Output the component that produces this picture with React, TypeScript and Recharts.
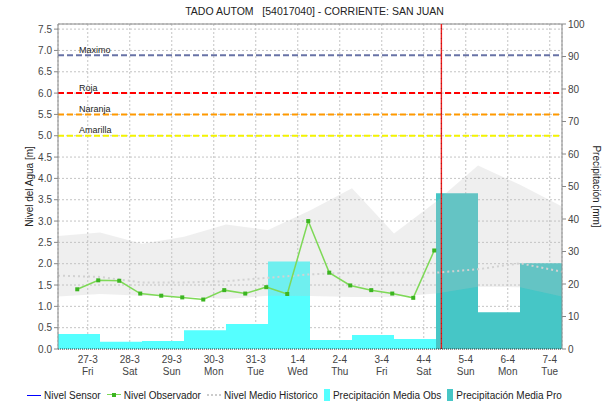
import React from 'react';
import {
  ComposedChart,
  Area,
  Line,
  XAxis,
  YAxis,
  CartesianGrid,
  ReferenceLine,
} from 'recharts';

// ---------- data ----------
// x values are days since 27-3 00:00
const X_START = -17 / 24; // 26-3 07:00
const X_END = X_START + 12; // 7-4 07:00

const DAY_TICKS = [0, 1, 2, 3, 4, 5, 6, 7, 8, 9, 10, 11];
const DATE_LABELS = ['27-3', '28-3', '29-3', '30-3', '31-3', '1-4', '2-4', '3-4', '4-4', '5-4', '6-4', '7-4'];
const WEEKDAY_LABELS = ['Fri', 'Sat', 'Sun', 'Mon', 'Tue', 'Wed', 'Thu', 'Fri', 'Sat', 'Sun', 'Mon', 'Tue'];

const LEVEL_TICKS = [0, 0.5, 1, 1.5, 2, 2.5, 3, 3.5, 4, 4.5, 5, 5.5, 6, 6.5, 7, 7.5];
const LEVEL_MAX = 7.62;
const PRECIP_TICKS = [0, 10, 20, 30, 40, 50, 60, 70, 80, 90, 100];

// observer readings, 06:00 and 18:00
const OBS_TIMES = [-0.25, 0.25, 0.75, 1.25, 1.75, 2.25, 2.75, 3.25, 3.75, 4.25, 4.75, 5.25, 5.75, 6.25, 6.75, 7.25, 7.75, 8.25];
const OBS_LEVELS = [1.4, 1.61, 1.6, 1.3, 1.25, 1.21, 1.16, 1.38, 1.3, 1.45, 1.29, 3.0, 1.79, 1.49, 1.38, 1.3, 1.2, 2.31];

// historical statistics, daily at 07:00
const HIST_TIMES = [X_START, X_START + 1, X_START + 2, X_START + 3, X_START + 4, X_START + 5, X_START + 6, X_START + 7, X_START + 8, X_START + 9, X_START + 10, X_START + 11, X_START + 12];
const HIST_MEAN = [1.72, 1.69, 1.56, 1.56, 1.59, 1.67, 1.75, 1.79, 1.79, 1.79, 1.87, 2.01, 1.81];
const HIST_MIN = [1.23, 1.29, 1.25, 1.23, 1.17, 1.25, 1.24, 1.22, 1.22, 1.3, 1.46, 1.45, 1.23];
const HIST_MAX = [2.65, 2.73, 2.47, 2.63, 2.92, 2.79, 3.25, 3.77, 2.71, 3.45, 4.3, 3.85, 3.34];

// daily precipitation (07:00 - 07:00), mm
const PRECIP_OBS_START = [X_START, X_START + 1, X_START + 2, X_START + 3, X_START + 4, X_START + 5, X_START + 6, X_START + 7, X_START + 8];
const PRECIP_OBS = [4.6, 2.2, 2.5, 5.8, 7.7, 26.9, 2.8, 4.3, 3.1];
const PRECIP_PRO_START = [X_START + 9, X_START + 10, X_START + 11];
const PRECIP_PRO = [47.9, 11.3, 26.4];

const THRESHOLD_NAMES = ['Maximo', 'Roja', 'Naranja', 'Amarilla'];
const THRESHOLD_VALUES = [6.89, 6.0, 5.5, 5.0];
const THRESHOLD_COLORS = ['#6873a6', '#ff0000', '#ff9900', '#f4f400'];

const NOW_X = 8.42;

// ---------- derived tables ----------
const obsData = OBS_TIMES.map((x, i) => ({ x, v: OBS_LEVELS[i] }));
const histData = HIST_TIMES.map((x, i) => ({ x, mean: HIST_MEAN[i], min: HIST_MIN[i], max: HIST_MAX[i] }));
const precipObsData = [
  ...PRECIP_OBS_START.map((x, i) => ({ x, v: PRECIP_OBS[i] })),
  { x: PRECIP_OBS_START[PRECIP_OBS_START.length - 1] + 1, v: PRECIP_OBS[PRECIP_OBS.length - 1] },
];
const precipProData = [
  ...PRECIP_PRO_START.map((x, i) => ({ x, v: PRECIP_PRO[i] })),
  { x: PRECIP_PRO_START[PRECIP_PRO_START.length - 1] + 1, v: PRECIP_PRO[PRECIP_PRO.length - 1] },
];

const FONT = '"Liberation Sans", Arial, sans-serif';
const TICK_STYLE = { fontSize: 10, fill: '#444', fontFamily: FONT };

const XTick = (props: any) => {
  const { x, y, payload } = props;
  const i = payload.value as number;
  return (
    <text x={x} y={y} textAnchor="middle" fontSize={10} fill="#444" fontFamily={FONT}>
      <tspan x={x} dy={6}>{DATE_LABELS[i]}</tspan>
      <tspan x={x} dy={12}>{WEEKDAY_LABELS[i]}</tspan>
    </text>
  );
};

const ObsDot = (props: any) => {
  const { cx, cy, index } = props;
  if (cx == null || cy == null) return <g key={`od${index}`} />;
  return <rect key={`od${index}`} x={cx - 2} y={cy - 2} width={4} height={4} fill="#3cb521" />;
};

const thresholdLabel = (name: string) => (p: any) => {
  const vb = p.viewBox || {};
  return (
    <text x={(vb.x ?? 58) + 21} y={(vb.y ?? 0) - 2.5} fontSize={9} fill="#222" fontFamily={FONT}>
      {name}
    </text>
  );
};

const LegendItem = ({ kind, color, text }: { kind: string; color: string; text: string }) => (
  <span style={{ display: 'inline-flex', alignItems: 'center', marginRight: 6 }}>
    {kind === 'line' && <span style={{ display: 'inline-block', width: 14, height: 0, borderTop: `1.5px solid ${color}`, marginRight: 3 }} />}
    {kind === 'marker' && (
      <span style={{ position: 'relative', display: 'inline-block', width: 14, height: 6, marginRight: 3 }}>
        <span style={{ position: 'absolute', left: 0, top: 2, width: 14, height: 0, borderTop: `1.5px solid #7ed957` }} />
        <span style={{ position: 'absolute', left: 5, top: 1, width: 4, height: 4, background: color }} />
      </span>
    )}
    {kind === 'dash' && <span style={{ display: 'inline-block', width: 14, height: 0, borderTop: `2px dotted ${color}`, marginRight: 3 }} />}
    {kind === 'box' && <span style={{ display: 'inline-block', width: 6, height: 12, background: color, marginRight: 3 }} />}
    <span>{text}</span>
  </span>
);

export default function App() {
  return (
    <div style={{ position: 'absolute', left: 0, top: 0, width: 613, height: 403, background: '#fff', fontFamily: FONT }}>
      <div
        style={{
          position: 'absolute',
          left: 0,
          width: 613,
          top: 5,
          textAlign: 'center',
          fontSize: 10.5,
          color: '#222',
          whiteSpace: 'pre',
          paddingLeft: 8,
        }}
      >
        {'TADO AUTOM   [54017040] - CORRIENTE: SAN JUAN'}
      </div>
      <ComposedChart width={613} height={380} margin={{ top: 24, right: 0, bottom: 0, left: 0 }}>
        <XAxis
          dataKey="x"
          type="number"
          domain={[X_START, X_END]}
          ticks={DAY_TICKS}
          allowDataOverflow
          height={31}
          tick={<XTick />}
          tickLine={false}
          axisLine={{ stroke: '#333', strokeDasharray: '1 1' }}
          interval={0}
        />
        <YAxis
          yAxisId="left"
          domain={[0, LEVEL_MAX]}
          ticks={LEVEL_TICKS}
          allowDataOverflow
          width={58}
          tickFormatter={(v: number) => v.toFixed(1)}
          tick={TICK_STYLE}
          tickSize={4}
          tickMargin={2}
          axisLine={{ stroke: '#888' }}
          tickLine={{ stroke: '#888' }}
          interval={0}
          label={(p: any) => {
            const vb = p.viewBox || { x: 0, y: 24, width: 58, height: 325 };
            const cx = 29;
            const cy = vb.y + vb.height / 2;
            return (
              <text x={cx} y={cy} transform={`rotate(-90 ${cx} ${cy})`} textAnchor="middle" dominantBaseline="central" fontSize={10} fill="#222" fontFamily={FONT}>
                Nivel del Agua [m]
              </text>
            );
          }}
        />
        <YAxis
          yAxisId="right"
          orientation="right"
          domain={[0, 100]}
          ticks={PRECIP_TICKS}
          allowDataOverflow
          width={51}
          tick={TICK_STYLE}
          tickSize={4}
          tickMargin={2}
          axisLine={{ stroke: '#888' }}
          tickLine={{ stroke: '#888' }}
          interval={0}
          label={(p: any) => {
            const vb = p.viewBox || { x: 562, y: 24, width: 51, height: 325 };
            const cx = 596;
            const cy = vb.y + vb.height / 2;
            return (
              <text x={cx} y={cy} transform={`rotate(90 ${cx} ${cy})`} textAnchor="middle" dominantBaseline="central" fontSize={10} fill="#222" fontFamily={FONT}>
                Precipitación [mm]
              </text>
            );
          }}
        />

        <Area
          yAxisId="right"
          data={precipObsData}
          dataKey="v"
          type="stepAfter"
          fill="#55ffff"
          fillOpacity={1}
          stroke="none"
          isAnimationActive={false}
        />
        <Area
          yAxisId="right"
          data={precipProData}
          dataKey="v"
          type="stepAfter"
          fill="#46c6c6"
          fillOpacity={1}
          stroke="none"
          isAnimationActive={false}
        />
        <Area
          yAxisId="left"
          data={histData}
          dataKey={(d: any) => [d.min, d.max]}
          type="linear"
          fill="#c0c0c0"
          fillOpacity={0.25}
          stroke="none"
          isAnimationActive={false}
        />
        <CartesianGrid yAxisId="left" stroke="#c4c4c4" strokeDasharray="2 2" />
        <Line
          yAxisId="left"
          data={histData}
          dataKey="mean"
          type="linear"
          stroke="#d2d2d2"
          strokeWidth={2}
          strokeDasharray="2 3"
          dot={false}
          activeDot={false}
          isAnimationActive={false}
        />
        {THRESHOLD_VALUES.map((v, i) => (
          <ReferenceLine
            key={THRESHOLD_NAMES[i]}
            yAxisId="left"
            y={v}
            stroke={THRESHOLD_COLORS[i]}
            strokeWidth={2}
            strokeDasharray="6 3"
            label={thresholdLabel(THRESHOLD_NAMES[i])}
          />
        ))}
        <ReferenceLine yAxisId="left" y={LEVEL_MAX} stroke="#888" />
        <Line
          yAxisId="left"
          data={obsData}
          dataKey="v"
          type="linear"
          stroke="#7ed957"
          strokeWidth={1.5}
          dot={ObsDot}
          activeDot={false}
          isAnimationActive={false}
        />
        <ReferenceLine yAxisId="left" x={NOW_X} stroke="#ee1c1c" strokeWidth={1.4} />
        <ReferenceLine yAxisId="left" x={NOW_X} stroke="#9a2020" strokeWidth={1} strokeDasharray="1 4" />
      </ComposedChart>
      <div
        style={{
          position: 'absolute',
          left: 27,
          top: 389,
          fontSize: 10,
          color: '#222',
          whiteSpace: 'nowrap',
          display: 'flex',
          alignItems: 'center',
        }}
      >
        <LegendItem kind="line" color="#0000ff" text="Nivel Sensor" />
        <LegendItem kind="marker" color="#3cb521" text="Nivel Observador" />
        <LegendItem kind="dash" color="#cccccc" text="Nivel Medio Historico" />
        <LegendItem kind="box" color="#55ffff" text="Precipitación Media Obs" />
        <LegendItem kind="box" color="#46c6c6" text="Precipitación Media Pro" />
      </div>
    </div>
  );
}
